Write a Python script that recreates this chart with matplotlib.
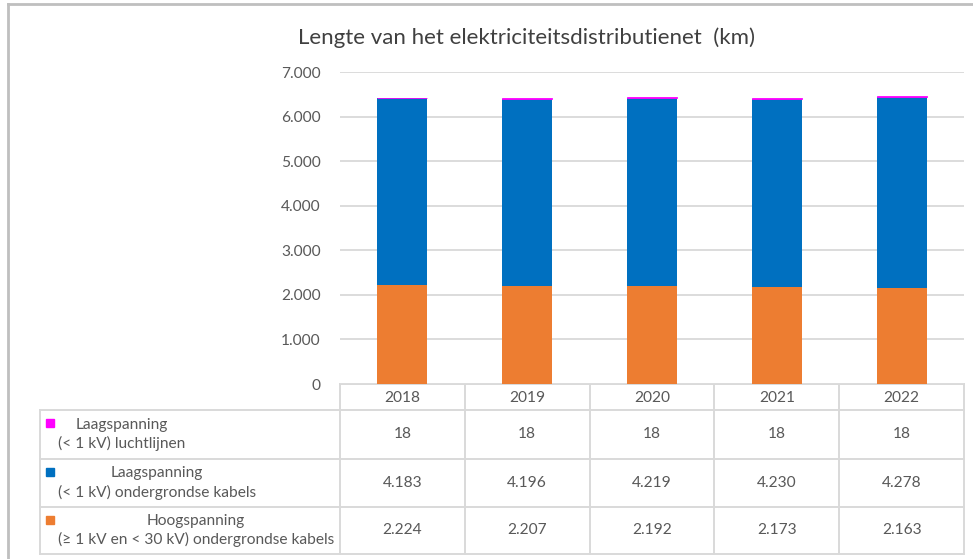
import numpy as np
import matplotlib
matplotlib.use('Agg')
import matplotlib.pyplot as plt
from matplotlib.ticker import FuncFormatter

plt.rcParams['font.family'] = ['Lato', 'DejaVu Sans']

# data ---------------------------------------------------------------------
years = ['2018', '2019', '2020', '2021', '2022']
luchtlijnen = [18, 18, 18, 18, 18]
ls_kabels = [4183, 4196, 4219, 4230, 4278]
hs_kabels = [2224, 2207, 2192, 2173, 2163]
series_labels = ['Laagspanning\n(< 1 kV) luchtlijnen',
                 'Laagspanning\n(< 1 kV) ondergrondse kabels',
                 'Hoogspanning\n(≥ 1 kV en < 30 kV) ondergrondse kabels']
title = 'Lengte van het elektriciteitsdistributienet  (km)'

# style --------------------------------------------------------------------
c_pink, c_blue, c_orange = '#FF00FF', '#0070C0', '#ED7D31'
grid_c = '#D9D9D9'
txt_c = '#595959'
fs = 11.2
W, H = 973, 559


def nl(v, pos=None):
    return '{:,.0f}'.format(v).replace(',', '.')


fig = plt.figure(figsize=(W / 100, H / 100), dpi=100)

# plot area in pixel box
x0, x1, ytop, ybot = 340, 964, 72, 384
ax = fig.add_axes([x0 / W, 1 - ybot / H, (x1 - x0) / W, (ybot - ytop) / H])
x = np.arange(len(years))
w = 0.4
ax.bar(x, hs_kabels, w, color=c_orange, zorder=3)
ax.bar(x, ls_kabels, w, bottom=hs_kabels, color=c_blue, zorder=3)
ax.bar(x, luchtlijnen, w, bottom=np.add(hs_kabels, ls_kabels), color=c_pink,
       edgecolor=c_pink, lw=0.6, zorder=4)
ax.set_xlim(-0.5, len(years) - 0.5)
ax.set_ylim(0, 7000)
ax.set_yticks(np.arange(0, 7001, 1000))
ax.yaxis.set_major_formatter(FuncFormatter(nl))
ax.set_xticks([])
ax.tick_params(axis='y', length=0, pad=14, labelsize=fs, labelcolor=txt_c)
ax.grid(axis='y', color=grid_c, lw=1.3, zorder=0)
for s in ax.spines.values():
    s.set_visible(False)

# overlay in pixel coordinates for the frame and data table
ov = fig.add_axes([0, 0, 1, 1], zorder=-1)
ov.set_xlim(0, W)
ov.set_ylim(H, 0)
ov.axis('off')
ov.plot([8, W], [4, 4], color='#BFBFBF', lw=2)
ov.plot([8, 8], [4, H], color='#BFBFBF', lw=2)

ov.text(527, 38, title, ha='center', va='center', fontsize=16, color='#404040')

# data table
tx0 = 40
rows = [384, 410, 459, 507, 554]
colw = (x1 - x0) / len(years)
cols = [x0 + i * colw for i in range(len(years) + 1)]
tlw = 1.4
ov.plot([x0, x1], [rows[0], rows[0]], color=grid_c, lw=tlw)
for r in rows[1:]:
    ov.plot([tx0, x1], [r, r], color=grid_c, lw=tlw)
for c in cols:
    ov.plot([c, c], [rows[0], rows[-1]], color=grid_c, lw=tlw)
ov.plot([tx0, tx0], [rows[1], rows[-1]], color=grid_c, lw=tlw)

for i, yr in enumerate(years):
    cx = x0 + (i + 0.5) * colw
    ov.text(cx, (rows[0] + rows[1]) / 2 + 1, yr, ha='center', va='center',
            fontsize=fs, color=txt_c)

table_rows = [(luchtlijnen, c_pink), (ls_kabels, c_blue), (hs_kabels, c_orange)]
for j, (vals, col) in enumerate(table_rows):
    ra, rb = rows[j + 1], rows[j + 2]
    ov.add_patch(plt.Rectangle((46, ra + 9), 8, 8, color=col))
    ov.text(58, (ra + rb) / 2, series_labels[j], ha='left', va='center',
            multialignment='center', fontsize=fs, color=txt_c, linespacing=1.4)
    for i, v in enumerate(vals):
        cx = x0 + (i + 0.5) * colw
        ov.text(cx, (ra + rb) / 2, nl(v), ha='center', va='center',
                fontsize=fs, color=txt_c)

fig.savefig('out.png', dpi=100)
